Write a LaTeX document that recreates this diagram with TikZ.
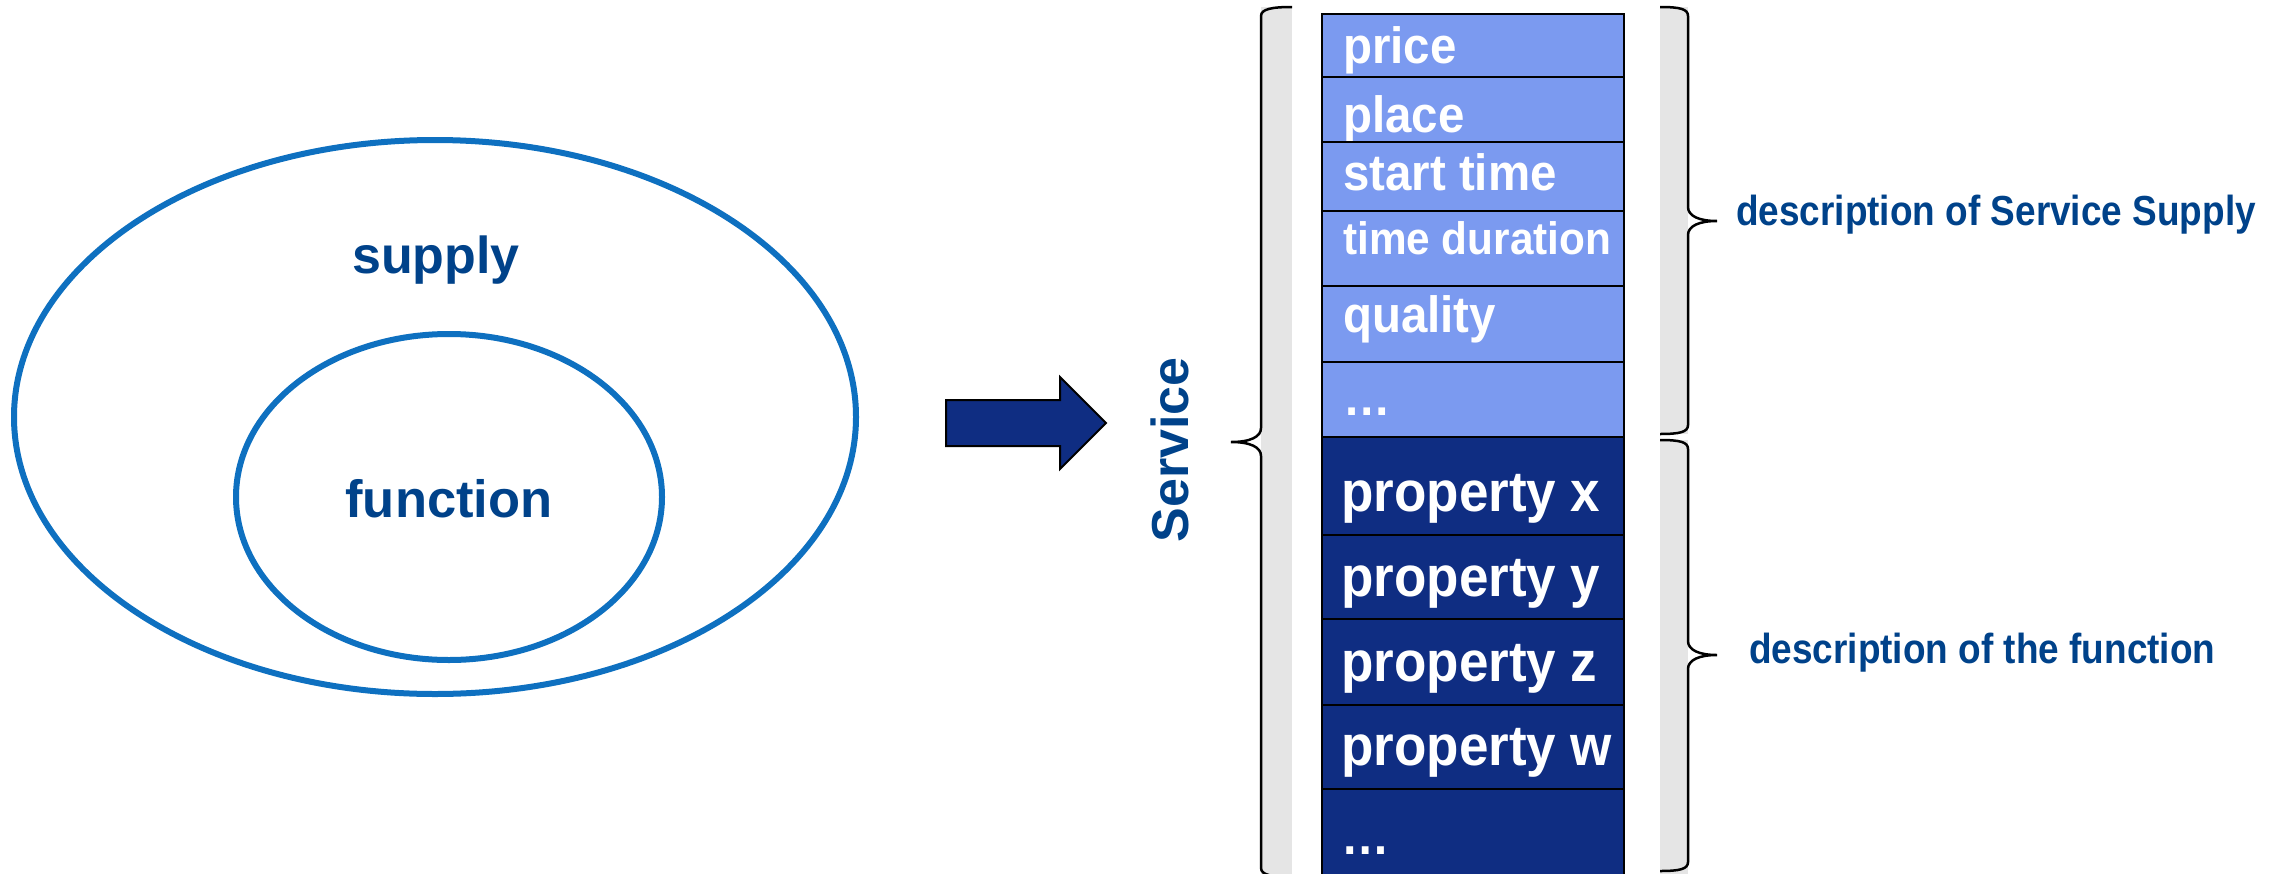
\documentclass[tikz,border=0pt]{standalone}
\usepackage{fontspec}
\setmainfont{Liberation Sans}
\newfontfamily\cellfont{Liberation Sans}[FakeStretch=0.93]
\newfontfamily\descfont{Liberation Sans}[FakeStretch=0.88]

\definecolor{lightcell}{RGB}{123,154,240}
\definecolor{darkcell}{RGB}{15,45,130}
\definecolor{textblue}{RGB}{0,66,138}
\definecolor{ringblue}{RGB}{14,112,192}
\definecolor{stripgray}{RGB}{229,229,229}

\tikzset{
  ring/.style={draw=ringblue, line width=6pt},
  celltext/.style={anchor=base west, inner sep=0pt, text=white, font=\cellfont\bfseries},
  bracelabel/.style={anchor=base west, inner sep=0pt, text=textblue, font=\descfont\bfseries\fontsize{42}{50}\selectfont},
  braceline/.style={draw=black, line width=2.5pt},
}

\begin{document}
\begin{tikzpicture}[x=1pt, y=-1pt]
        \useasboundingbox (0,0) rectangle (2288,873);

        % Draw supply and function ellipses
        \draw[ring] (435,417) ellipse [x radius=421pt, y radius=277pt];
        \draw[ring] (449,497) ellipse [x radius=213pt, y radius=163pt];
        \node[anchor=base, inner sep=0pt, text=textblue, font=\bfseries\fontsize{52}{60}\selectfont]
          (supply) at (436,273) {supply};
        \node[anchor=base, inner sep=0pt, text=textblue, font=\bfseries\fontsize{52.5}{60}\selectfont]
          (function) at (449,517) {function};

        % Block arrow
        \filldraw[fill=darkcell, draw=black, line width=2pt]
          (946,400) -- (1060,400) -- (1060,377) -- (1106,423)
          -- (1060,469) -- (1060,446) -- (946,446) -- cycle;

        % Service label
        \node[anchor=base, inner sep=0pt, rotate=90, text=textblue, font=\bfseries\fontsize{52}{60}\selectfont]
          (service) at (1188,450) {Service};

        % Gray strips behind the braces
        \fill[stripgray] (1261,7) rectangle (1292,880);
        \fill[stripgray] (1660,7) rectangle (1688,434);
        \fill[stripgray] (1660,440) rectangle (1688,880);

        % Light cells: description of the supply
        \foreach \nm/\top/\bot/\base/\fs/\txt in {
            price/14/77/63/51/price,
            place/77/142/132/51/place,
            start/142/211/190/51/start time,
            duration/211/286/254/45.5/time duration,
            quality/286/362/332/51/quality,
            moresupply/362/437/415/51/…}
        {
          \filldraw[fill=lightcell, draw=black, line width=2pt] (1322,\top) rectangle (1624,\bot);
          \node[celltext] (\nm) at (1343,\base) {\fontsize{\fs}{\fs}\selectfont \txt};
        }

        % Dark cells: description of the function
        \foreach \nm/\top/\bot/\base/\fs/\txt in {
            propx/437/535/511/57/property x,
            propy/535/619/596/57/property y,
            propz/619/705/681/57/property z,
            propw/705/789/765/57/property w,
            morefunc/789/880/854/52/…}
        {
          \filldraw[fill=darkcell, draw=black, line width=2pt] (1322,\top) rectangle (1624,\bot);
          \node[celltext] (\nm) at (1341,\base) {\fontsize{\fs}{\fs}\selectfont \txt};
        }

        % Left brace round the whole service
        \draw[braceline] (1292,7) .. controls (1272,7) and (1261,9) .. (1261,16)
          -- (1261,428) .. controls (1261,437) and (1250,442) .. (1231,442)
          .. controls (1250,442) and (1261,447) .. (1261,456)
          -- (1261,868) .. controls (1261,875) and (1272,877) .. (1292,877);

        % Right braces
        \draw[braceline] (1660,7) .. controls (1680,7) and (1688,9) .. (1688,16)
          -- (1688,207) .. controls (1688,216) and (1699,221) .. (1717,221)
          .. controls (1699,221) and (1688,226) .. (1688,235)
          -- (1688,425) .. controls (1688,432) and (1680,434) .. (1660,434);
        \draw[braceline] (1660,440) .. controls (1680,440) and (1688,442) .. (1688,449)
          -- (1688,641) .. controls (1688,650) and (1699,655) .. (1717,655)
          .. controls (1699,655) and (1688,660) .. (1688,669)
          -- (1688,862) .. controls (1688,869) and (1680,871) .. (1660,871);

        % Brace labels
        \node[bracelabel] (supplydesc) at (1736,225) {description of Service Supply};
        \node[bracelabel] (funcdesc) at (1749,663) {description of the function};
\end{tikzpicture}
\end{document}
